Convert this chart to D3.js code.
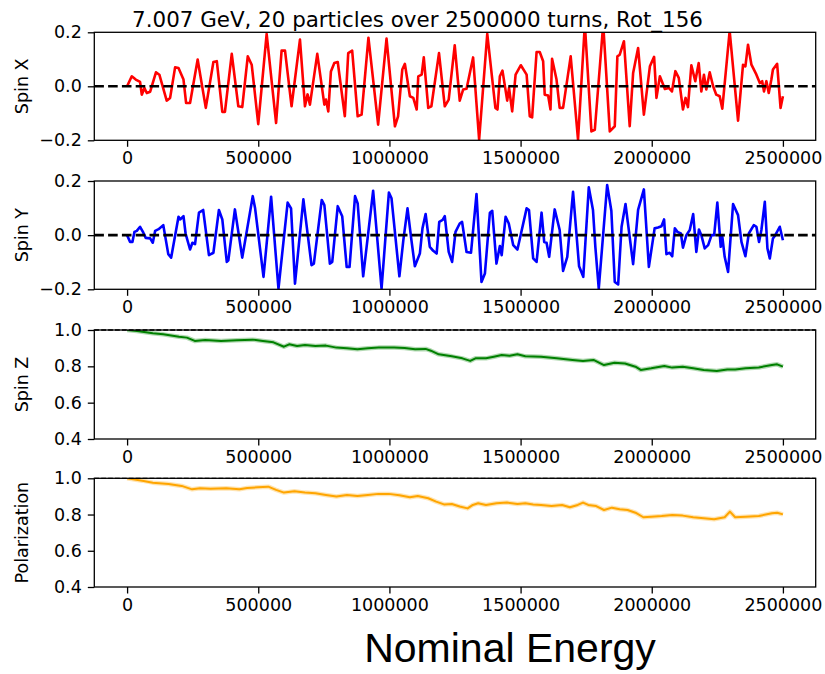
<!DOCTYPE html>
<html>
<head>
<meta charset="utf-8">
<script src="https://cdn.jsdelivr.net/npm/d3@7"></script>
<style>
  html, body { margin: 0; padding: 0; background: #fff; }
  svg { display: block; }
  text { font-family: "DejaVu Sans", sans-serif; fill: #000; }
</style>
</head>
<body>
<svg id="chart" width="825" height="674"></svg>
<script>
// Turn numbers shared by all four panels
const xTicks = [0, 500000, 1000000, 1500000, 2000000, 2500000];
const xDomain = [-125000, 2625000];

// Spin X: [turn, value]
const spinX = [
  [0,0.0],[17800,0.037],[33000,0.025],[49500,0.016],[56000,-0.031],[66000,-0.006],[75000,-0.025],[88000,-0.02],
  [110000,0.052],[123000,0.043],[151000,-0.053],[164000,-0.043],[183000,0.07],[196000,0.068],[215000,0.025],
  [225000,-0.062],[240000,-0.062],[269000,0.099],[300000,-0.08],[329000,0.09],[342000,0.093],[363000,-0.095],
  [373000,-0.095],[399000,0.12],[424000,-0.074],[439000,-0.077],[460000,0.111],[475000,0.08],[500000,-0.14],
  [532000,0.194],[568000,-0.136],[589000,0.132],[602000,0.132],[627000,-0.074],[659000,0.173],[678000,-0.074],
  [688000,-0.03],[697000,-0.068],[725000,0.12],[752000,-0.068],[758000,-0.049],[767000,-0.093],[777000,0.055],
  [790000,0.086],[803000,0.09],[830000,-0.111],[843000,0.123],[858000,0.132],[879000,-0.111],[894000,-0.105],
  [920000,0.18],[957000,-0.142],[989000,0.177],[1021000,-0.148],[1033000,-0.111],[1049000,0.062],[1059000,0.083],
  [1078000,-0.037],[1091000,-0.043],[1104000,-0.086],[1110000,0.037],[1123000,0.043],[1131000,0.107],
  [1148000,-0.08],[1160000,-0.074],[1189000,0.123],[1211000,-0.074],[1226000,-0.049],[1249000,0.152],
  [1268000,-0.053],[1281000,-0.012],[1294000,-0.009],[1319000,0.107],[1342000,-0.198],[1373000,0.194],
  [1404000,-0.08],[1412000,-0.086],[1421000,0.037],[1431000,0.058],[1449000,-0.053],[1456000,-0.006],
  [1468000,-0.093],[1481000,0.043],[1501000,0.078],[1523000,0.043],[1535000,-0.111],[1544000,-0.115],
  [1561000,0.127],[1573000,0.127],[1586000,0.093],[1592000,-0.031],[1605000,-0.034],[1614000,-0.086],
  [1620000,0.102],[1637000,0.025],[1649000,-0.08],[1662000,-0.08],[1691000,0.111],[1719000,-0.198],
  [1745000,0.23],[1770000,-0.167],[1783000,-0.161],[1815000,0.23],[1840000,-0.167],[1859000,-0.148],
  [1869000,0.111],[1878000,0.117],[1894000,0.167],[1916000,-0.148],[1929000,0.049],[1948000,0.142],
  [1970000,-0.105],[1993000,0.074],[2009000,0.109],[2018000,-0.043],[2031000,0.037],[2050000,-0.01],
  [2065000,-0.006],[2077000,-0.019],[2090000,0.056],[2103000,0.031],[2119000,-0.086],[2129000,-0.043],
  [2138000,-0.077],[2151000,0.078],[2166000,0.019],[2179000,0.086],[2189000,-0.019],[2199000,0.043],
  [2208000,-0.012],[2221000,0.052],[2234000,0.0],[2246000,-0.031],[2259000,-0.037],[2269000,-0.083],
  [2297000,0.205],[2329000,-0.127],[2348000,0.08],[2357000,0.074],[2367000,0.154],[2380000,0.08],
  [2399000,0.043],[2412000,0.012],[2421000,0.019],[2428000,-0.019],[2437000,0.019],[2446000,-0.025],
  [2456000,0.025],[2462000,0.062],[2478000,0.083],[2491000,-0.08],[2500000,-0.037]
];

// Spin Y: [turn, value]
const spinY = [
  [0,0],[11400,-0.025],[20300,-0.025],[28000,0.012],[37000,0.016],[49500,0.031],[62000,0.009],[71000,-0.01],
  [88000,-0.012],[98000,-0.028],[107000,0.016],[120000,0.022],[138000,0.037],[157000,-0.07],[168000,-0.083],
  [196000,0.068],[202000,0.058],[215000,0.07],[223000,0.006],[240000,-0.053],[249000,-0.028],[259000,-0.033],
  [274000,0.083],[290000,0.093],[312000,-0.074],[329000,-0.065],[350000,0.093],[363000,0.058],[380000,-0.099],
  [386000,-0.093],[411000,0.095],[439000,-0.083],[479000,0.144],[488000,0.099],[520000,-0.154],[549000,0.142],
  [577000,-0.198],[612000,0.12],[625000,0.099],[640000,-0.179],[672000,0.132],[703000,-0.111],[712000,-0.105],
  [742000,0.13],[752000,0.111],[773000,-0.105],[782000,-0.099],[803000,0.107],[820000,0.07],[837000,-0.117],
  [848000,-0.117],[869000,0.144],[879000,0.117],[900000,-0.152],[938000,0.164],[970000,-0.198],[998000,0.157],
  [1008000,0.136],[1038000,-0.152],[1053000,-0.019],[1069000,0.099],[1084000,-0.019],[1097000,-0.115],
  [1116000,-0.068],[1126000,0.025],[1138000,0.078],[1154000,-0.043],[1167000,-0.058],[1180000,-0.068],
  [1190000,0.049],[1203000,0.056],[1211000,0.07],[1226000,-0.062],[1239000,-0.099],[1252000,0.012],
  [1268000,0.043],[1277000,0.049],[1294000,-0.062],[1311000,-0.065],[1332000,0.152],[1351000,-0.173],
  [1364000,-0.142],[1383000,0.083],[1392000,0.09],[1408000,-0.105],[1421000,-0.04],[1428000,-0.074],
  [1443000,0.068],[1455000,0.043],[1472000,-0.037],[1488000,-0.053],[1523000,0.099],[1532000,0.093],
  [1548000,-0.086],[1561000,-0.099],[1580000,0.083],[1590000,-0.025],[1599000,-0.028],[1609000,-0.08],
  [1630000,0.095],[1649000,0.019],[1662000,-0.132],[1678000,-0.08],[1700000,0.16],[1723000,-0.115],
  [1739000,-0.154],[1760000,0.177],[1776000,0.093],[1785000,-0.043],[1798000,-0.198],[1830000,0.185],
  [1846000,0.09],[1859000,-0.173],[1872000,-0.182],[1885000,0.031],[1900000,0.115],[1929000,-0.107],
  [1948000,0.093],[1970000,0.169],[1989000,-0.117],[2011000,0.025],[2024000,0.028],[2037000,0.033],
  [2047000,0.058],[2056000,-0.07],[2068000,-0.065],[2078000,-0.078],[2088000,0.025],[2098000,0.012],
  [2111000,0.006],[2119000,-0.046],[2132000,0.0],[2145000,0.019],[2158000,0.078],[2170000,-0.062],
  [2180000,0.021],[2189000,0.0],[2202000,-0.049],[2215000,-0.037],[2228000,0.0],[2238000,0.0],[2250000,0.12],
  [2263000,-0.043],[2269000,-0.006],[2278000,-0.08],[2291000,-0.136],[2310000,0.115],[2329000,0.074],
  [2342000,-0.025],[2357000,-0.078],[2370000,0.006],[2389000,0.037],[2399000,0.031],[2409000,-0.025],
  [2418000,0.019],[2431000,0.123],[2441000,-0.049],[2450000,-0.086],[2462000,-0.012],[2471000,0.0],
  [2488000,0.031],[2500000,-0.019]
];

// Spin Z: [turn, value]
const spinZ = [
  [0,1.0],[38000,0.995],[98000,0.982],[138000,0.976],[198000,0.963],[228000,0.958],[258000,0.94],[298000,0.945],
  [358000,0.94],[418000,0.943],[478000,0.947],[518000,0.94],[558000,0.932],[598000,0.908],[618000,0.921],
  [648000,0.912],[678000,0.917],[718000,0.912],[758000,0.914],[798000,0.903],[838000,0.899],[878000,0.894],
  [918000,0.899],[958000,0.903],[1018000,0.903],[1058000,0.901],[1098000,0.894],[1138000,0.896],[1158000,0.886],
  [1188000,0.866],[1238000,0.855],[1278000,0.844],[1308000,0.83],[1328000,0.844],[1368000,0.844],[1398000,0.853],
  [1428000,0.862],[1458000,0.858],[1488000,0.866],[1518000,0.855],[1578000,0.853],[1638000,0.844],[1698000,0.835],
  [1738000,0.83],[1778000,0.835],[1818000,0.807],[1858000,0.82],[1898000,0.816],[1938000,0.798],[1958000,0.78],
  [1998000,0.789],[2048000,0.802],[2078000,0.793],[2118000,0.798],[2158000,0.789],[2198000,0.78],[2248000,0.774],
  [2288000,0.783],[2318000,0.783],[2358000,0.789],[2408000,0.794],[2458000,0.807],[2478000,0.811],[2500000,0.798]
];

// Polarization: [turn, value]
const polarization = [
  [0,1.0],[58000,0.987],[98000,0.976],[158000,0.969],[208000,0.958],[248000,0.939],[278000,0.945],[318000,0.942],
  [378000,0.945],[428000,0.939],[458000,0.947],[498000,0.95],[538000,0.954],[568000,0.936],[598000,0.921],
  [638000,0.928],[678000,0.921],[718000,0.917],[758000,0.908],[798000,0.899],[838000,0.908],[878000,0.902],
  [918000,0.908],[958000,0.914],[998000,0.914],[1038000,0.906],[1078000,0.895],[1108000,0.902],[1148000,0.89],
  [1178000,0.871],[1208000,0.856],[1238000,0.858],[1268000,0.844],[1298000,0.834],[1318000,0.853],[1338000,0.862],
  [1368000,0.853],[1408000,0.862],[1448000,0.866],[1488000,0.858],[1518000,0.862],[1548000,0.856],[1578000,0.853],
  [1618000,0.847],[1658000,0.853],[1688000,0.84],[1718000,0.853],[1738000,0.866],[1758000,0.853],[1788000,0.847],
  [1818000,0.825],[1848000,0.838],[1878000,0.829],[1908000,0.825],[1938000,0.81],[1968000,0.785],[1998000,0.788],
  [2038000,0.792],[2078000,0.798],[2118000,0.794],[2158000,0.785],[2198000,0.779],[2238000,0.774],[2278000,0.785],
  [2298000,0.816],[2318000,0.785],[2358000,0.788],[2408000,0.792],[2458000,0.807],[2478000,0.81],[2500000,0.801]
];

const titleText = "7.007 GeV, 20 particles over 2500000 turns, Rot_156";
const xAxisTitle = "Nominal Energy";

const panels = [
  { label: "Spin X", data: spinX, color: "#ff0000", domain: [-0.2, 0.2], ticks: [-0.2, 0.0, 0.2],
    ref: 0, top: 32.3, bottom: 140.3, lw: 2.6, refW: 2.6, refDash: "9.6,4.2", halo: false },
  { label: "Spin Y", data: spinY, color: "#0000ff", domain: [-0.2, 0.2], ticks: [-0.2, 0.0, 0.2],
    ref: 0, top: 181, bottom: 289.3, lw: 2.6, refW: 2.6, refDash: "9.6,4.2", halo: false },
  { label: "Spin Z", data: spinZ, color: "#008000", domain: [0.4, 1.0], ticks: [0.4, 0.6, 0.8, 1.0],
    ref: 1, top: 330, bottom: 439, lw: 2, refW: 1.3, refDash: "4.8,2.1", halo: true },
  { label: "Polarization", data: polarization, color: "#ffa500", domain: [0.4, 1.0], ticks: [0.4, 0.6, 0.8, 1.0],
    ref: 1, top: 478.3, bottom: 587, lw: 2, refW: 1.3, refDash: "4.8,2.1", halo: true }
];

const left = 94.3, right = 815.7;
const svg = d3.select("#chart");
const x = d3.scaleLinear().domain(xDomain).range([left, right]);
const fmt1 = d3.format(".1f");

panels.forEach((p, i) => {
  const y = d3.scaleLinear().domain(p.domain).range([p.bottom, p.top]);
  const g = svg.append("g");

  const clipId = "clip" + i;
  svg.append("clipPath").attr("id", clipId)
    .append("rect").attr("x", left).attr("y", p.top).attr("width", right - left).attr("height", p.bottom - p.top);

  const line = d3.line().x(d => x(d[0])).y(d => y(d[1]));
  const plot = g.append("g").attr("clip-path", `url(#${clipId})`);

  if (p.halo) {
    plot.append("path").datum(p.data).attr("d", line)
      .attr("fill", "none").attr("stroke", p.color).attr("stroke-opacity", 0.3)
      .attr("stroke-width", p.lw + 2.5).attr("stroke-linejoin", "round");
  }
  plot.append("path").datum(p.data).attr("d", line)
    .attr("fill", "none").attr("stroke", p.color).attr("stroke-width", p.lw)
    .attr("stroke-linejoin", "round").attr("stroke-linecap", "butt");

  // reference level
  g.append("line")
    .attr("x1", left).attr("x2", right).attr("y1", y(p.ref)).attr("y2", y(p.ref))
    .attr("stroke", "#000").attr("stroke-width", p.refW).attr("stroke-dasharray", p.refDash);

  // axes
  const yAxis = d3.axisLeft(y).tickValues(p.ticks).tickFormat(fmt1).tickSize(6.5).tickPadding(6).tickSizeOuter(0);
  const xAxis = d3.axisBottom(x).tickValues(xTicks).tickFormat(d3.format("d")).tickSize(6.5).tickPadding(5).tickSizeOuter(0);

  const ya = g.append("g").attr("transform", `translate(${left},0)`).call(yAxis);
  const xa = g.append("g").attr("transform", `translate(0,${p.bottom})`).call(xAxis);
  [ya, xa].forEach(a => {
    a.select(".domain").remove();
    a.selectAll(".tick line").attr("stroke", "#000").attr("stroke-width", 1.3);
    a.selectAll(".tick text").attr("font-size", "17.5px").attr("font-family", "DejaVu Sans").attr("fill", "#000");
  });

  // frame
  g.append("rect").attr("x", left).attr("y", p.top).attr("width", right - left).attr("height", p.bottom - p.top)
    .attr("fill", "none").attr("stroke", "#000").attr("stroke-width", 1.3);

  // y label
  g.append("text")
    .attr("transform", `translate(28,${(p.top + p.bottom) / 2}) rotate(-90)`)
    .attr("text-anchor", "middle")
    .attr("font-size", "17.5px")
    .text(p.label);
});

svg.append("text").attr("x", 417.5).attr("y", 26.5).attr("text-anchor", "middle")
  .attr("font-size", "21.4px").text(titleText);

svg.append("text").attr("x", 510).attr("y", 662).attr("text-anchor", "middle")
  .style("font-family", "'Liberation Sans', Arial, sans-serif")
  .attr("font-size", "41px").text(xAxisTitle);
</script>
</body>
</html>
